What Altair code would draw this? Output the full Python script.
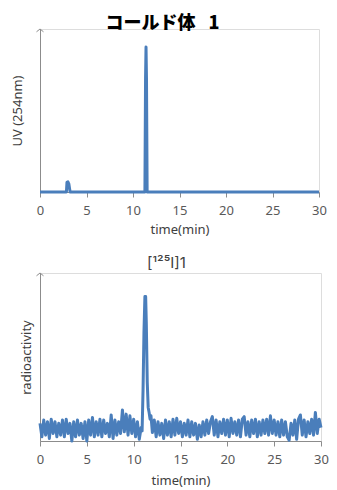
import altair as alt
import pandas as pd

# ---- UV chromatogram (top) ----
uv_time = [0, 2.84, 2.9, 3.0, 3.1, 3.18, 3.24, 11.28, 11.35, 11.4, 11.45, 11.52, 30]
uv_value = [0, 0, 6.0, 6.3, 5.0, 2.0, 0, 0, 70, 89, 70, 0, 0]

# ---- radioactivity chromatogram (bottom) ----
rad_time = [
    0.0, 0.2, 0.4, 0.6, 0.8, 1.0, 1.2, 1.4, 1.6, 1.8,
    2.0, 2.2, 2.4, 2.6, 2.8, 3.0, 3.2, 3.4, 3.6, 3.8,
    4.0, 4.2, 4.4, 4.6, 4.8, 5.0, 5.2, 5.4, 5.6, 5.8,
    6.0, 6.2, 6.4, 6.6, 6.8, 7.0, 7.2, 7.4, 7.6, 7.8,
    8.0, 8.2, 8.4, 8.6, 8.8, 9.0, 9.2, 9.4, 9.6, 9.8,
    10.0, 10.2, 10.4, 10.6, 10.8,
    10.9, 11.0, 11.1, 11.2, 11.28, 11.35, 11.45, 11.55, 11.65, 11.75, 11.85, 12.0,
    12.2, 12.4, 12.6, 12.8, 13.0, 13.2, 13.4, 13.6, 13.8,
    14.0, 14.2, 14.4, 14.6, 14.8, 15.0, 15.2, 15.4, 15.6, 15.8,
    16.0, 16.2, 16.4, 16.6, 16.8, 17.0, 17.2, 17.4, 17.6, 17.8,
    18.0, 18.2, 18.4, 18.6, 18.8, 19.0, 19.2, 19.4, 19.6, 19.8,
    20.0, 20.2, 20.4, 20.6, 20.8, 21.0, 21.2, 21.4, 21.6, 21.8,
    22.0, 22.2, 22.4, 22.6, 22.8, 23.0, 23.2, 23.4, 23.6, 23.8,
    24.0, 24.2, 24.4, 24.6, 24.8, 25.0, 25.2, 25.4, 25.6, 25.8,
    26.0, 26.2, 26.4, 26.6, 26.8, 27.0, 27.2, 27.4, 27.6, 27.8,
    28.0, 28.2, 28.4, 28.6, 28.8, 29.0, 29.2, 29.4, 29.6, 29.8,
    30.0,
]
rad_value = [
    10.5, 2.5, 12.5, 3.5, 11.5, 1.5, 13, 4.5, 11.5, 2.5,
    10.5, 3.5, 12.5, 2.5, 13, 4.5, 10.5, 0, 11.5, 2.5,
    12.5, 3.5, 10.5, 1.5, 11.5, 0, 12.5, 3.5, 14, 2.5,
    11.5, 3.5, 13, 2.5, 12.5, 4.5, 10.5, 2.5, 15.5, 1.5,
    12.5, 3.5, 11.5, 4.5, 18.5, 5.5, 16, 3.5, 15, 4.5,
    13, 2.5, 11.5, 1, 8,
    6, 30, 65, 86, 86, 70, 35, 20, 17, 13, 15, 5,
    12.5, 2.5, 11.5, 3.5, 10.5, 1.5, 12.5, 3.5, 11.5,
    2.5, 13, 3.5, 13.5, 4.5, 11.5, 2.5, 10.5, 3.5, 12.5,
    2.5, 11.5, 3.5, 10.5, 1, 9.5, 2.5, 11.5, 3.5, 12.5,
    4.5, 11.5, 14.5, 3.5, 12.5, 2.5, 11.5, 4.5, 13, 3.5,
    12.5, 2.5, 13.5, 4.5, 11.5, 3.5, 12.5, 2.5, 13, 14.5,
    3.5, 11.5, 2.5, 12.5, 4.5, 13, 2.5, 11.5, 3.5, 12.5,
    4.5, 13, 3.5, 15, 4.5, 12.5, 3.5, 11.5, 2.5, 12.5,
    3.5, 11.5, 2.5, 0.5, 10.5, 3.5, 12.5, 1, 13, 15.5,
    3.5, 12.5, 2.5, 11.5, 4.5, 13, 3.5, 17, 4.5, 13,
    8,
]

x_ticks = [0, 5, 10, 15, 20, 25, 30]

LINE = "#4a7ebb"
AXIS = "#8c8c8c"
FONT = "Noto Sans"

uv_df = pd.DataFrame({"t": uv_time, "v": uv_value})
rad_df = pd.DataFrame({"t": rad_time, "v": rad_value})
arrow_df = pd.DataFrame({"a": [0]})


def xaxis(tpad):
    return alt.Axis(values=x_ticks, grid=False, domainColor=AXIS, tickColor=AXIS,
                    tickSize=5, labelFontSize=13, labelColor="#595959",
                    labelFont=FONT, labelPadding=7, titleFont=FONT,
                    titleFontSize=13, titleColor="#404040", titleFontWeight="normal",
                    titlePadding=tpad, labelFlush=False)


def yaxis(pad):
    return alt.Axis(grid=False, ticks=False, labels=False, domainColor=AXIS,
                    titleFont=FONT, titleFontSize=13, titleColor="#404040",
                    titleFontWeight="normal", titlePadding=pad)


arrow = alt.Chart(arrow_df).mark_point(
    shape="M -1 0.8 L 0 0 L 1 0.8", filled=False, stroke=AXIS, strokeWidth=1,
    size=49, opacity=1,
).encode(x=alt.value(0), y=alt.value(0))

uv_line = alt.Chart(uv_df).mark_line(color=LINE, strokeWidth=3, strokeJoin="round").encode(
    x=alt.X("t:Q", title="time(min)", scale=alt.Scale(domain=[0, 30], nice=False), axis=xaxis(6)),
    y=alt.Y("v:Q", title="UV (254nm)", scale=alt.Scale(domain=[0, 100], nice=False), axis=yaxis(16)),
    order="t:Q",
)

top = alt.layer(uv_line, arrow).properties(
    width=279, height=163,
    title=alt.TitleParams("コールド体\u2002 1", font="Noto Sans CJK JP", fontSize=18,
                          fontWeight=900, color="#000000", anchor="middle",
                          dx=-17, offset=-6),
)

rad_line = alt.Chart(rad_df).mark_line(color=LINE, strokeWidth=3, strokeJoin="round").encode(
    x=alt.X("t:Q", title="time(min)", scale=alt.Scale(domain=[0, 30], nice=False), axis=xaxis(8)),
    y=alt.Y("v:Q", title="radioactivity", scale=alt.Scale(domain=[0, 100], nice=False), axis=yaxis(7)),
    order="t:Q",
)

bottom = alt.layer(rad_line, arrow).properties(
    width=281, height=168,
    title=alt.TitleParams("[¹²⁵I]1", font="Inter", fontSize=15, fontWeight="normal",
                          color="#404040", anchor="middle", dx=-14, offset=0),
)

chart = alt.vconcat(top, bottom, spacing=18).properties(
    padding={"left": 2, "top": 6, "right": 0, "bottom": 0}
).configure_view(stroke=None).configure(background="white")

chart.save("out.html", embed_options={"renderer": "svg", "actions": False})
